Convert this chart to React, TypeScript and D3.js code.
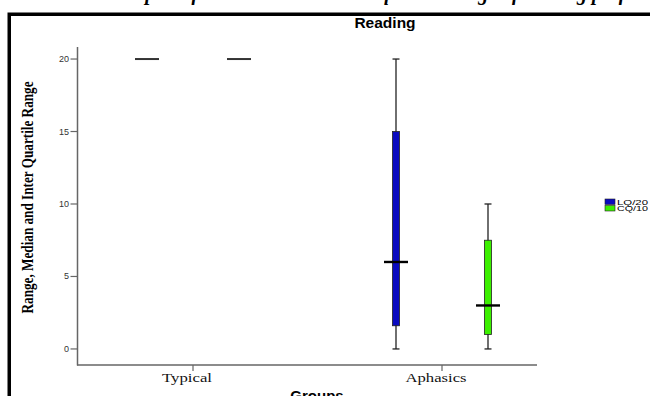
import React from 'react';
import * as d3 from 'd3';

// groups on the x axis and the two series in the legend
const categories = ['Typical', 'Aphasics'];
const series = ['LQ/20', 'CQ/10'];
const seriesColors = ['#0a0ac0', '#3cf000'];

// box stats per group: [min, q1, median, q3, max]
const lqBoxes = [
  [20, 20, 20, 20, 20],
  [0, 1.6, 6, 15, 20],
];
const cqBoxes = [
  [20, 20, 20, 20, 20],
  [0, 1, 3, 7.5, 10],
];
const yTicks = [0, 5, 10, 15, 20];

const W = 650;
const H = 396;

export default function App() {
  const y = d3.scaleLinear().domain([-1.107, 20.83]).range([365, 47]);
  const x = d3.scalePoint().domain(categories).range([193, 442]);
  const off = d3.scalePoint().domain(series).range([-46, 46]);

  const allBoxes = [lqBoxes, cqBoxes];

  return (
    <div>
      <style>{`body{margin:0}`}</style>
      <svg width={W} height={H} style={{ display: 'block' }}>
        <rect width={W} height={H} fill="#fff" />
        {/* caption of the page, cut off at the top */}
        <text x={107} y={-0.5} fontFamily="Liberation Serif" fontWeight="bold" fontStyle="italic" fontSize={20} fill="#000">
          Box plot of the median and inter quartile range of reading performance of groups
        </text>
        {/* frame */}
        <rect x={9.25} y={14.25} width={700} height={420} fill="none" stroke="#000" strokeWidth={3.5} />

        <text x={385} y={28} textAnchor="middle" fontFamily="Liberation Sans" fontWeight="bold" fontSize={15.5} fill="#000">
          Reading
        </text>

        {/* y axis */}
        <line x1={77.5} x2={77.5} y1={47} y2={365.5} stroke="#666" strokeWidth={1.5} />
        {yTicks.map((t) => (
          <g key={t}>
            <line x1={70.5} x2={77.5} y1={y(t)} y2={y(t)} stroke="#666" strokeWidth={1.2} />
            <text x={69} y={y(t) + 3} textAnchor="end" fontFamily="Liberation Sans" fontSize={9} fill="#333">
              {t}
            </text>
          </g>
        ))}
        <text
          transform="translate(33,197.5) rotate(-90)"
          textAnchor="middle"
          fontFamily="Liberation Serif"
          fontWeight="bold"
          fontSize={17}
          textLength={232}
          lengthAdjust="spacingAndGlyphs"
          fill="#000"
        >
          Range, Median and Inter Quartile Range
        </text>

        {/* x axis */}
        <line x1={77} x2={537} y1={365} y2={365} stroke="#666" strokeWidth={1.5} />
        {categories.map((c) => (
          <g key={c}>
            <line x1={x(c)} x2={x(c)} y1={365} y2={371} stroke="#666" strokeWidth={1.2} />
            <text
              x={x(c)! - 6}
              y={382}
              textAnchor="middle"
              fontFamily="Liberation Serif"
              fontSize={13}
              textLength={c === 'Typical' ? 50 : 61}
              lengthAdjust="spacingAndGlyphs"
              fill="#111"
            >
              {c}
            </text>
          </g>
        ))}
        <text x={317} y={401} textAnchor="middle" fontFamily="Liberation Sans" fontWeight="bold" fontSize={15} fill="#000">
          Groups
        </text>

        {/* boxes */}
        {allBoxes.map((boxes, si) =>
          boxes.map((b, ci) => {
            const cx = x(categories[ci])! + off(series[si])!;
            const [mn, q1, md, q3, mx] = b;
            const flat = mn === mx;
            return (
              <g key={si + '-' + ci}>
                {!flat && (
                  <>
                    <line x1={cx} x2={cx} y1={y(mx)} y2={y(mn)} stroke="#222" strokeWidth={1.3} />
                    <line x1={cx - 3.5} x2={cx + 3.5} y1={y(mx)} y2={y(mx)} stroke="#222" strokeWidth={1.3} />
                    <line x1={cx - 3.5} x2={cx + 3.5} y1={y(mn)} y2={y(mn)} stroke="#222" strokeWidth={1.3} />
                    <rect
                      x={cx - 3.5}
                      y={y(q3)}
                      width={7}
                      height={y(q1) - y(q3)}
                      fill={seriesColors[si]}
                      stroke="#222"
                      strokeWidth={0.8}
                    />
                  </>
                )}
                <line
                  x1={cx - 12}
                  x2={cx + 12}
                  y1={y(md)}
                  y2={y(md)}
                  stroke={flat ? '#333' : '#000'}
                  strokeWidth={flat ? 2 : 2.4}
                />
              </g>
            );
          })
        )}

        {/* legend */}
        {series.map((s, i) => (
          <g key={s} transform={`translate(605,${199 + i * 6.5})`}>
            <rect width={10} height={5.5} fill={seriesColors[i]} stroke="#222" strokeWidth={0.6} />
            <text x={12} y={5.6} fontFamily="Liberation Sans" fontSize={7.5} textLength={31} lengthAdjust="spacingAndGlyphs" fill="#000">
              {s}
            </text>
          </g>
        ))}
      </svg>
    </div>
  );
}
